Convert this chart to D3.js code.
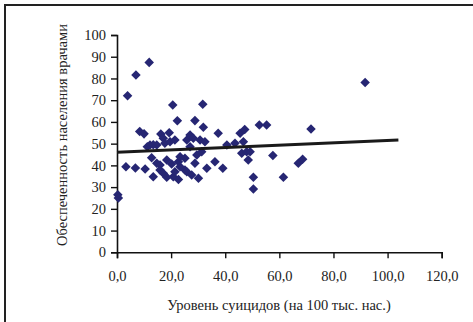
<!DOCTYPE html>
<html><head><meta charset="utf-8">
<script src="https://cdn.jsdelivr.net/npm/d3@7"></script>
<style>html,body{margin:0;padding:0;background:#fff;}svg{display:block;}</style>
</head><body>
<script>
const xTicks = [0, 20, 40, 60, 80, 100, 120];
const yTicks = [0, 10, 20, 30, 40, 50, 60, 70, 80, 90, 100];
const suicideRate = [0.3,0.5,3.9,7.0,11.9,3.3,6.8,10.4,8.4,10,11.2,12.2,13.4,14.7,12.8,13.4,14.7,15.9,15.9,17.1,16.2,17.1,17.7,18.4,19.3,19.6,20.2,20.8,21.4,21.4,20.6,22.3,22.7,23.3,23.3,22.7,18.4,25.1,25.1,25.8,25.8,27,27,28.2,28.8,28.8,29.5,27.6,30.1,30.7,31.3,31.7,31.9,32.5,33.2,36.2,37.4,39.1,40.6,43.6,45.5,46.7,47.2,46.1,47.9,48.5,49.2,50.4,50.4,52.6,55.3,57.6,61.5,67,68.6,71.7,91.7];
const doctorSupply = [26.5,25,72,81.6,87.4,39.4,38.8,38.3,55.6,54.5,48.6,49.4,49.5,49.4,43.5,34.8,41,40.2,37.9,36.4,54.4,52.5,50.2,42.5,55,50.9,40.6,34.8,37.1,51.7,67.8,60.5,41.7,44,39.4,33.5,34.5,37.9,43.3,51.7,37.1,54,48.6,52.5,60.6,41,44.8,35.6,34.1,51.7,46.3,68.1,57.5,50.9,38.7,41.7,54.8,38.7,49.4,50.2,54.8,50.9,56.5,45.6,46.3,42.5,46.3,34.5,29.1,58.6,58.6,44.5,34.5,41,42.8,56.7,78.1];
const trendX = [0, 104];
const trendY = [46, 51.7];
const xTitle = "Уровень суицидов (на 100 тыс. нас.)";
const yTitle = "Обеспеченность населения врачами";

const W = 473, H = 322;
const svg = d3.select("body").append("svg").attr("width", W).attr("height", H);
svg.append("rect").attr("x", 5).attr("y", 5).attr("width", 500).attr("height", 400)
  .attr("fill", "none").attr("stroke", "#222").attr("stroke-width", 2);

const x = d3.scaleLinear().domain([0, 120]).range([117, 441.7]);
const y = d3.scaleLinear().domain([0, 100]).range([252.3, 35]);
const font = "'Liberation Serif', 'Times New Roman', serif";

const xAxis = svg.append("g").attr("transform", `translate(0,${y(0)})`)
  .call(d3.axisBottom(x).tickValues(xTicks).tickSize(6).tickPadding(12)
    .tickFormat(d => d3.format(".1f")(d).replace(".", ",")));
const yAxis = svg.append("g").attr("transform", `translate(${x(0)},0)`)
  .call(d3.axisLeft(y).tickValues(yTicks).tickSize(6).tickPadding(5));
[xAxis, yAxis].forEach(g => {
  g.select(".domain").attr("stroke", "#111").attr("stroke-width", 1.6);
  g.selectAll(".tick line").attr("stroke", "#111").attr("stroke-width", 1.4);
  g.selectAll(".tick text").attr("fill", "#222").attr("font-family", font).attr("font-size", 14.5);
});

const pts = suicideRate.map((v, i) => [v, doctorSupply[i]]);
const sym = d3.symbol().type(d3.symbolDiamond2).size(58);
svg.append("g").selectAll("path").data(pts).join("path")
  .attr("d", sym)
  .attr("transform", d => `translate(${x(d[0])},${y(d[1])})`)
  .attr("fill", "#262673");

svg.append("line")
  .attr("x1", x(trendX[0])).attr("y1", y(trendY[0]))
  .attr("x2", x(trendX[1])).attr("y2", y(trendY[1]))
  .attr("stroke", "#1a1a1a").attr("stroke-width", 3);

svg.append("text").attr("x", 279).attr("y", 310).attr("text-anchor", "middle")
  .attr("font-family", font).attr("font-size", 14.5).attr("fill", "#222").text(xTitle);
svg.append("text").attr("transform", "translate(67,135) rotate(-90)").attr("text-anchor", "middle")
  .attr("font-family", font).attr("font-size", 14.5).attr("fill", "#222").text(yTitle);
</script>
</body></html>
